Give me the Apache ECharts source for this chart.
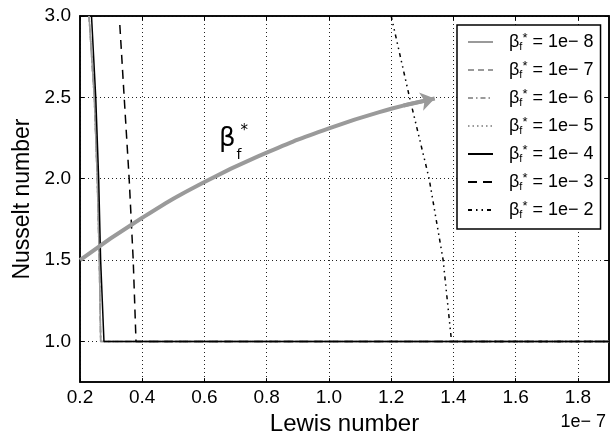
<!DOCTYPE html>
<html>
<head>
<meta charset="utf-8">
<script src="https://cdn.jsdelivr.net/npm/echarts@6/dist/echarts.min.js"></script>
<style>
html,body{margin:0;padding:0;background:#fff;}
#chart{width:611px;height:441px;}
</style>
</head>
<body>
<div id="chart"></div>
<script>
// ---- data (Lewis number in units of 1e-7) ----
const xTicks = [0.2, 0.4, 0.6, 0.8, 1.0, 1.2, 1.4, 1.6, 1.8];
const yTicks = [1.0, 1.5, 2.0, 2.5, 3.0];

const seriesNames = ['1e− 8', '1e− 7', '1e− 6', '1e− 5', '1e− 4', '1e− 3', '1e− 2'];

const lewis_1e8 = [0.229, 0.246, 0.2555, 0.262, 0.2665, 1.9];
const nusselt_1e8 = [3.0, 2.5, 2.0, 1.5, 1.0, 1.0];
const lewis_1e7 = [0.229, 0.246, 0.2555, 0.262, 0.2665, 1.9];
const nusselt_1e7 = [3.0, 2.5, 2.0, 1.5, 1.0, 1.0];
const lewis_1e6 = [0.229, 0.246, 0.2555, 0.262, 0.2665, 1.9];
const nusselt_1e6 = [3.0, 2.5, 2.0, 1.5, 1.0, 1.0];
const lewis_1e5 = [0.229, 0.246, 0.2555, 0.262, 0.2665, 1.9];
const nusselt_1e5 = [3.0, 2.5, 2.0, 1.5, 1.0, 1.0];
const lewis_1e4 = [0.237, 0.2506, 0.260, 0.2663, 0.277, 1.9];
const nusselt_1e4 = [3.0, 2.5, 2.0, 1.5, 1.0, 1.0];
const lewis_1e3 = [0.328, 0.342, 0.358, 0.371, 0.380, 1.9];
const nusselt_1e3 = [2.945, 2.5, 2.0, 1.5, 1.0, 1.0];
const lewis_1e2 = [1.200, 1.259, 1.322, 1.367, 1.394, 1.9];
const nusselt_1e2 = [3.0, 2.5, 2.0, 1.5, 1.0, 1.0];

// annotation arrow (direction of increasing beta_f*)
const arrowX = [0.2, 0.4, 0.6, 0.8, 1.0, 1.2, 1.31];
const arrowY = [1.5, 1.76, 1.98, 2.16, 2.31, 2.43, 2.48];
const arrowHeadX = [1.24, 1.34];
const arrowHeadY = [2.45, 2.493];

const zip = (xs, ys) => xs.map((x, i) => [x, ys[i]]);

const GRAY = '#9a9a9a';
const BLACK = '#000000';
const styles = [
  {color: GRAY, type: 'solid'},
  {color: GRAY, type: [6, 4]},
  {color: GRAY, type: [5, 3, 1.5, 3]},
  {color: GRAY, type: [1.5, 3]},
  {color: BLACK, type: 'solid'},
  {color: BLACK, type: [9, 6]},
  {color: BLACK, type: [4, 4, 1.5, 4, 1.5, 4]}
];
const dataSets = [
  zip(lewis_1e8, nusselt_1e8), zip(lewis_1e7, nusselt_1e7), zip(lewis_1e6, nusselt_1e6),
  zip(lewis_1e5, nusselt_1e5), zip(lewis_1e4, nusselt_1e4), zip(lewis_1e3, nusselt_1e3),
  zip(lewis_1e2, nusselt_1e2)
];

const FONT = 'Liberation Sans';
const chart = echarts.init(document.getElementById('chart'), null, {renderer: 'canvas'});

const series = seriesNames.map((n, i) => ({
  name: n,
  type: 'line',
  data: dataSets[i],
  symbol: 'none',
  showSymbol: false,
  animation: false,
  clip: true,
  lineStyle: {color: styles[i].color, type: styles[i].type, width: 1.5},
  itemStyle: {color: styles[i].color},
  z: 3 + i
}));

series.push({
  name: 'arrow',
  type: 'line',
  data: zip(arrowX, arrowY),
  smooth: true,
  symbol: 'none',
  silent: true,
  animation: false,
  lineStyle: {color: GRAY, width: 4},
  z: 20
});
series.push({
  name: 'arrowhead',
  type: 'lines',
  coordinateSystem: 'cartesian2d',
  data: [{coords: zip(arrowHeadX, arrowHeadY)}],
  symbol: ['none', 'arrow'],
  symbolSize: [10, 14],
  silent: true,
  animation: false,
  lineStyle: {color: GRAY, width: 4, opacity: 1},
  z: 20
});

const axisCommon = {
  type: 'value',
  axisLine: {show: true, onZero: false, lineStyle: {color: BLACK, width: 1.5}},
  axisTick: {show: true, inside: true, length: 4, lineStyle: {color: BLACK, width: 1}}
};

const option = {
  backgroundColor: '#fff',
  animation: false,
  grid: {left: 80, right: 2, top: 16, bottom: 54, show: true, borderColor: BLACK, borderWidth: 1.5, backgroundColor: 'transparent'},
  xAxis: [
    Object.assign({}, axisCommon, {
      min: 0.2, max: 1.9, position: 'bottom',
      axisTick: Object.assign({}, axisCommon.axisTick, {customValues: xTicks}),
      axisLabel: {customValues: xTicks, formatter: v => v.toFixed(1), fontSize: 19, fontFamily: FONT, color: BLACK, margin: 6},
      splitLine: {show: true, lineStyle: {color: '#222', type: [1, 3], width: 1}},
      name: 'Lewis number', nameLocation: 'middle', nameGap: 27,
      nameTextStyle: {fontSize: 24, fontFamily: FONT, color: BLACK}
    }),
    Object.assign({}, axisCommon, {
      min: 0.2, max: 1.9, position: 'top',
      axisTick: Object.assign({}, axisCommon.axisTick, {customValues: xTicks}),
      axisLabel: {show: false, customValues: xTicks},
      splitLine: {show: false}
    })
  ],
  yAxis: [
    Object.assign({}, axisCommon, {
      min: 0.75, max: 3.0, position: 'left',
      axisTick: Object.assign({}, axisCommon.axisTick, {customValues: yTicks}),
      axisLabel: {customValues: yTicks, formatter: v => v.toFixed(1), fontSize: 19, fontFamily: FONT, color: BLACK, margin: 9},
      splitLine: {show: true, lineStyle: {color: '#222', type: [1, 3], width: 1}},
      name: 'Nusselt number', nameLocation: 'middle', nameGap: 43,
      nameTextStyle: {fontSize: 23, fontFamily: FONT, color: BLACK}
    }),
    Object.assign({}, axisCommon, {
      min: 0.75, max: 3.0, position: 'right',
      axisTick: Object.assign({}, axisCommon.axisTick, {customValues: yTicks}),
      axisLabel: {show: false, customValues: yTicks},
      splitLine: {show: false}
    })
  ],
  legend: {
    data: seriesNames,
    orient: 'vertical',
    left: 457, top: 25,
    padding: [7, 7, 9, 10],
    itemWidth: 25, itemHeight: 14, itemGap: 8,
    itemStyle: {opacity: 0, color: 'transparent', borderWidth: 0},
    backgroundColor: '#fff',
    borderColor: BLACK, borderWidth: 1.5, borderRadius: 0,
    selectedMode: false,
    formatter: n => '{g|}{b|β}{s|f}{p|*}{t| = ' + n + '}',
    textStyle: {
      fontFamily: FONT, color: BLACK, fontSize: 18,
      rich: {
        g: {width: 11, height: 20},
        b: {fontFamily: FONT, fontSize: 18, lineHeight: 20, verticalAlign: 'middle'},
        s: {fontFamily: FONT, fontSize: 11, lineHeight: 20, verticalAlign: 'bottom', padding: [6, 0, 0, 0]},
        p: {fontFamily: FONT, fontSize: 13, lineHeight: 20, verticalAlign: 'top', padding: [0, 0, 6, 0]},
        t: {fontFamily: FONT, fontSize: 18, lineHeight: 20, verticalAlign: 'middle'}
      }
    },
    z: 30
  },
  graphic: [
    {type: 'text', left: 219, top: 126, z: 40, silent: true,
      style: {text: 'β', font: '26px "DejaVu Sans"', fill: BLACK}},
    {type: 'text', left: 236.5, top: 148, z: 40, silent: true,
      style: {text: 'f', font: '14px "DejaVu Sans"', fill: BLACK}},
    {type: 'text', left: 240.5, top: 124, z: 40, silent: true,
      style: {text: '*', font: '15px "DejaVu Sans"', fill: BLACK}},
    {type: 'text', right: 5, top: 413, z: 40, silent: true,
      style: {text: '1e− 7', font: '18px "Liberation Sans"', fill: BLACK}}
  ],
  series: series
};
chart.setOption(option);
</script>
</body>
</html>
